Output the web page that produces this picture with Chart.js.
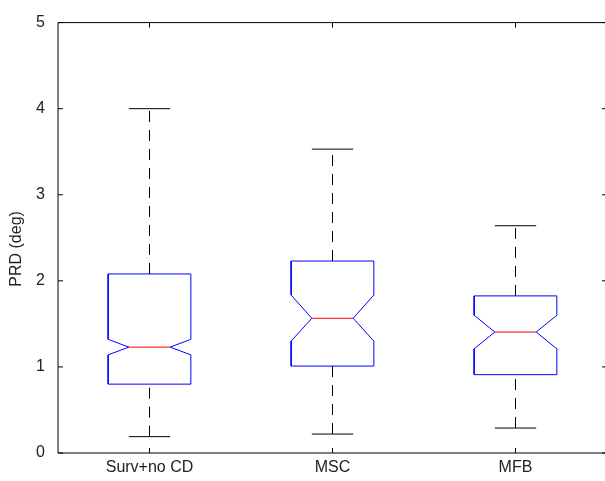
<!DOCTYPE html>
<html>
<head>
<meta charset="utf-8">
<script src="https://cdn.jsdelivr.net/npm/chart.js@4.4.1/dist/chart.umd.min.js"></script>
<style>
  html, body { margin: 0; padding: 0; background: #fff; overflow: hidden; }
  #wrap { width: 612px; height: 481px; }
</style>
</head>
<body>
<div id="wrap"><canvas id="chart" width="612" height="481"></canvas></div>
<script>
// Box plot values (PRD in degrees)
const groups = ['Surv+no CD', 'MSC', 'MFB'];
const whiskerLow = [0.19, 0.22, 0.29];
const q1 = [0.80, 1.01, 0.91];
const notchLow = [1.14, 1.30, 1.21];
const median = [1.23, 1.565, 1.405];
const notchHigh = [1.32, 1.835, 1.60];
const q3 = [2.08, 2.23, 1.825];
const whiskerHigh = [4.0, 3.53, 2.64];
const yTicks = [0, 1, 2, 3, 4, 5];

const BOX_HALF = 0.226;
const NOTCH_HALF = BOX_HALF / 2;
const CAP_HALF = BOX_HALF / 2;
const FONT = { family: 'Liberation Sans', size: 16 };

const datasets = [];
groups.forEach((g, i) => {
  const x = i + 1;
  const line = (data, color, dash) => ({
    data: data,
    showLine: true,
    borderColor: color,
    borderWidth: 1,
    borderDash: dash || [],
    pointRadius: 0,
    tension: 0,
    fill: false
  });
  // whiskers
  datasets.push(line([{x: x, y: q3[i]}, {x: x, y: whiskerHigh[i]}], '#000', [11, 8]));
  datasets.push(line([{x: x, y: whiskerLow[i]}, {x: x, y: q1[i]}], '#000', [11, 8]));
  datasets.push(line([{x: x - CAP_HALF, y: whiskerHigh[i]}, {x: x + CAP_HALF, y: whiskerHigh[i]}], '#000'));
  datasets.push(line([{x: x - CAP_HALF, y: whiskerLow[i]}, {x: x + CAP_HALF, y: whiskerLow[i]}], '#000'));
  // notched box
  datasets.push(line([
    {x: x - BOX_HALF, y: q1[i]},
    {x: x + BOX_HALF, y: q1[i]},
    {x: x + BOX_HALF, y: notchLow[i]},
    {x: x + NOTCH_HALF, y: median[i]},
    {x: x + BOX_HALF, y: notchHigh[i]},
    {x: x + BOX_HALF, y: q3[i]},
    {x: x - BOX_HALF, y: q3[i]},
    {x: x - BOX_HALF, y: notchHigh[i]},
    {x: x - NOTCH_HALF, y: median[i]},
    {x: x - BOX_HALF, y: notchLow[i]},
    {x: x - BOX_HALF, y: q1[i]}
  ], '#0000ff'));
  // median
  datasets.push(line([{x: x - NOTCH_HALF, y: median[i]}, {x: x + NOTCH_HALF, y: median[i]}], '#ff0000'));
});

// axes frame with inward ticks (matlab style)
const framePlugin = {
  id: 'frame',
  afterDraw(chart) {
    const ctx = chart.ctx;
    const a = chart.chartArea;
    const xs = chart.scales.x, ys = chart.scales.y;
    const len = 5;
    ctx.save();
    ctx.strokeStyle = '#000';
    ctx.lineWidth = 1;
    ctx.beginPath();
    ctx.rect(a.left, a.top, a.right - a.left, a.bottom - a.top);
    xs.ticks.forEach(t => {
      const px = xs.getPixelForValue(t.value);
      ctx.moveTo(px, a.bottom); ctx.lineTo(px, a.bottom - len);
      ctx.moveTo(px, a.top); ctx.lineTo(px, a.top + len);
    });
    ys.ticks.forEach(t => {
      const py = ys.getPixelForValue(t.value);
      ctx.moveTo(a.left, py); ctx.lineTo(a.left + len, py);
      ctx.moveTo(a.right, py); ctx.lineTo(a.right - len, py);
    });
    ctx.stroke();
    ctx.restore();
  }
};

new Chart(document.getElementById('chart'), {
  type: 'scatter',
  data: { datasets: datasets },
  options: {
    responsive: false,
    animation: false,
    layout: { padding: { left: 0, right: 5, top: 20, bottom: 0 } },
    plugins: { legend: { display: false }, tooltip: { enabled: false } },
    scales: {
      x: {
        type: 'linear',
        min: 0.5,
        max: 3.5,
        afterBuildTicks: scale => { scale.ticks = groups.map((g, i) => ({ value: i + 1 })); },
        afterFit: scale => { scale.height = 28; },
        grid: { display: false, drawTicks: false },
        border: { display: false },
        ticks: {
          padding: 5,
          color: '#222',
          font: FONT,
          maxRotation: 0,
          autoSkip: false,
          callback: v => groups[v - 1]
        }
      },
      y: {
        min: 0,
        max: 5,
        afterBuildTicks: scale => { scale.ticks = yTicks.map(v => ({ value: v })); },
        afterFit: scale => { scale.width = 58; },
        grid: { display: false, drawTicks: false },
        border: { display: false },
        ticks: {
          padding: 13,
          color: '#222',
          font: FONT
        },
        title: {
          display: true,
          // trailing spaces nudge the label down a little, like the original
          text: 'PRD (deg)     ',
          color: '#222',
          font: FONT,
          padding: { top: 7, bottom: 0 }
        }
      }
    }
  },
  plugins: [framePlugin]
});
</script>
</body>
</html>
